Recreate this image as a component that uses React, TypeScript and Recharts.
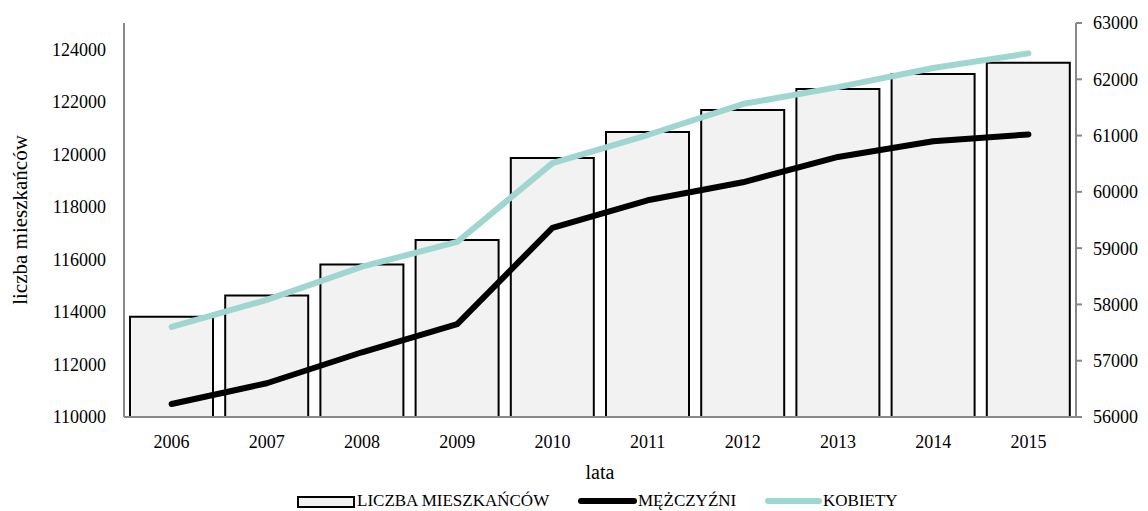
import React from 'react';
import { ComposedChart, Bar, Line, XAxis, YAxis, Label } from 'recharts';

const years = ['2006', '2007', '2008', '2009', '2010', '2011', '2012', '2013', '2014', '2015'];
const total = [113820, 114630, 115810, 116740, 119860, 120850, 121690, 122490, 123060, 123490];
const men = [56230, 56600, 57150, 57650, 59360, 59850, 60170, 60620, 60900, 61020];
const women = [57600, 58080, 58670, 59110, 60510, 61010, 61560, 61860, 62200, 62460];
const leftTicks = [110000, 112000, 114000, 116000, 118000, 120000, 122000, 124000];
const rightTicks = [56000, 57000, 58000, 59000, 60000, 61000, 62000, 63000];

const SERIES_TOTAL = 'LICZBA MIESZKAŃCÓW';
const SERIES_MEN = 'MĘŻCZYŹNI';
const SERIES_WOMEN = 'KOBIETY';

const data = years.map((y, i) => ({ year: y, total: total[i], men: men[i], women: women[i] }));

const FONT = '"Liberation Serif", "Times New Roman", serif';
const AXIS = '#888888';
const TEAL = '#9fd6cf';

export default function App() {
  const tickStyle = { fontFamily: FONT, fontSize: 18, fill: '#000' };
  return (
    <div style={{ position: 'absolute', left: 0, top: 0, width: 1148, height: 511, background: '#fff' }}>
      <ComposedChart
        width={1148}
        height={511}
        data={data}
        margin={{ top: 23, right: 0, bottom: 0, left: 0 }}
        barCategoryGap={6}
      >
        <XAxis
          dataKey="year"
          height={94}
          tickLine={false}
          tickMargin={12}
          axisLine={{ stroke: AXIS, strokeWidth: 2 }}
          tick={tickStyle}
        >
          <Label value="lata" position="insideBottom" offset={32} style={{ fontFamily: FONT, fontSize: 20, fill: '#000' }} />
        </XAxis>
        <YAxis
          yAxisId="left"
          width={124}
          domain={[110000, 125000]}
          ticks={leftTicks}
          interval={0}
          tickLine={false}
          tickMargin={12}
          axisLine={{ stroke: AXIS, strokeWidth: 2 }}
          tick={tickStyle}
        >
          <Label
            value="liczba mieszkańców"
            angle={-90}
            position="insideLeft"
            offset={20}
            style={{ fontFamily: FONT, fontSize: 21, fill: '#000', textAnchor: 'middle' }}
          />
        </YAxis>
        <YAxis
          yAxisId="right"
          orientation="right"
          width={72}
          domain={[56000, 63000]}
          ticks={rightTicks}
          interval={0}
          tickSize={6}
          tickMargin={11}
          tickLine={{ stroke: AXIS, strokeWidth: 2 }}
          axisLine={{ stroke: AXIS, strokeWidth: 2 }}
          tick={tickStyle}
        />
        <Bar
          yAxisId="left"
          dataKey="total"
          name={SERIES_TOTAL}
          fill="#f2f2f2"
          stroke="#000"
          strokeWidth={2}
          isAnimationActive={false}
        />
        <Line
          yAxisId="right"
          type="linear"
          dataKey="men"
          name={SERIES_MEN}
          stroke="#000"
          strokeWidth={6}
          strokeLinecap="round"
          strokeLinejoin="round"
          dot={false}
          activeDot={false}
          isAnimationActive={false}
        />
        <Line
          yAxisId="right"
          type="linear"
          dataKey="women"
          name={SERIES_WOMEN}
          stroke={TEAL}
          strokeWidth={6}
          strokeLinecap="round"
          strokeLinejoin="round"
          dot={false}
          activeDot={false}
          isAnimationActive={false}
        />
      </ComposedChart>
      <div style={{ position: 'absolute', left: 0, top: 490, width: 1148, height: 21, fontFamily: FONT, fontSize: 17, color: '#000' }}>
        <div style={{ position: 'absolute', left: 297, top: 6, width: 54, height: 8, background: '#f2f2f2', border: '2px solid #000' }} />
        <div style={{ position: 'absolute', left: 357, top: 0, lineHeight: '21px', whiteSpace: 'nowrap' }}>{SERIES_TOTAL}</div>
        <div style={{ position: 'absolute', left: 578, top: 8, width: 59, height: 6, background: '#000', borderRadius: 3 }} />
        <div style={{ position: 'absolute', left: 638, top: 0, lineHeight: '21px', whiteSpace: 'nowrap' }}>{SERIES_MEN}</div>
        <div style={{ position: 'absolute', left: 765, top: 8, width: 57, height: 6, background: TEAL, borderRadius: 3 }} />
        <div style={{ position: 'absolute', left: 823, top: 0, lineHeight: '21px', whiteSpace: 'nowrap' }}>{SERIES_WOMEN}</div>
      </div>
    </div>
  );
}
